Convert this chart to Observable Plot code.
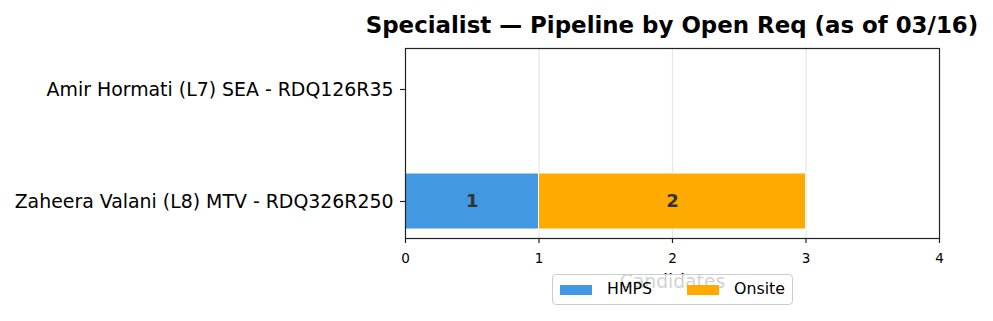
<!DOCTYPE html>
<html>
<head>
<meta charset="utf-8">
<script src="https://cdn.jsdelivr.net/npm/d3@7"></script>
<script src="https://cdn.jsdelivr.net/npm/@observablehq/plot@0.6"></script>
<style>
  html, body { margin: 0; padding: 0; background: #fff; }
  #wrap { position: relative; width: 993px; height: 321px; font-family: "DejaVu Sans", sans-serif; }
  #title { position: absolute; left: 272px; width: 800px; top: 11px; line-height: 28px; text-align: center; white-space: nowrap;
           font-weight: bold; font-size: 22.9px; color: #000; }
  #legend { position: absolute; left: 552px; top: 274px; width: 241px; height: 31px; box-sizing: border-box;
            border: 1.5px solid #ccc; border-radius: 4px; background: rgba(255,255,255,0.82);
            font-size: 15.8px; color: #000; }
  .sw { position: absolute; width: 32px; height: 10px; top: 10px; }
  .lt { position: absolute; top: 4px; line-height: 20px; }
  svg { position: absolute; left: 0; top: 0; }
</style>
</head>
<body>
<div id="wrap">
  <div id="chart"></div>
  <div id="title">Specialist — Pipeline by Open Req (as of 03/16)</div>
  <div id="legend"></div>
</div>
<script>
const categories = ["Amir Hormati (L7) SEA - RDQ126R35", "Zaheera Valani (L8) MTV - RDQ326R250"];
const series = ["HMPS", "Onsite"];
const hmps = [0, 1];
const onsite = [0, 2];
const colors = ["#4299e1", "#ffaa00"];
const xTicks = [0, 1, 2, 3, 4];
const xLabel = "Candidates";

const rows = [];
categories.forEach((c, i) => {
  rows.push({cat: c, series: "HMPS", value: hmps[i]});
  rows.push({cat: c, series: "Onsite", value: onsite[i]});
});
const nonzero = rows.filter(d => d.value > 0);

const chart = Plot.plot({
  width: 993,
  height: 321,
  marginLeft: 405,
  marginRight: 54,
  marginTop: 48,
  marginBottom: 83,
  style: {fontFamily: "DejaVu Sans, sans-serif", fontSize: "13px", color: "#000", background: "transparent"},
  x: {domain: [0, 4], label: null},
  y: {domain: categories, paddingInner: 0.504, paddingOuter: 0.093, align: 0.6, label: null},
  color: {domain: series, range: colors},
  marks: [
    Plot.gridX(xTicks.slice(1, -1), {stroke: "#e6e6e6", strokeOpacity: 1, strokeWidth: 1.2}),
    Plot.barX(nonzero, Plot.stackX({x: "value", y: "cat", fill: "series", order: series, stroke: "#fff", strokeWidth: 1})),
    Plot.text(nonzero, Plot.stackX({x: "value", y: "cat", z: "series", order: series, text: d => String(d.value),
      fill: "#333", fontWeight: "bold", fontSize: 18})),
    Plot.text([xLabel], {frameAnchor: "bottom", dy: 49, text: d => d, fontSize: 18.7, fill: "#000"}),
    Plot.frame({stroke: "#222", strokeWidth: 1.2}),
    Plot.axisX(xTicks, {tickSize: 5, tickPadding: 10, fontSize: 13.5, tickFormat: d => String(d), stroke: "#222", strokeWidth: 1.2, label: null}),
    Plot.axisY({tickSize: 5, tickPadding: 7, fontSize: 18.9, stroke: "#222", strokeWidth: 1.2, label: null})
  ]
});
document.getElementById("chart").appendChild(chart);

const leg = document.getElementById("legend");
const swX = [7, 134];
const txX = [54, 181];
series.forEach((s, i) => {
  const sw = document.createElement("span");
  sw.className = "sw";
  sw.style.left = swX[i] + "px";
  sw.style.background = colors[i];
  leg.appendChild(sw);
  const t = document.createElement("span");
  t.className = "lt";
  t.style.left = txX[i] + "px";
  t.textContent = s;
  leg.appendChild(t);
});
</script>
</body>
</html>
